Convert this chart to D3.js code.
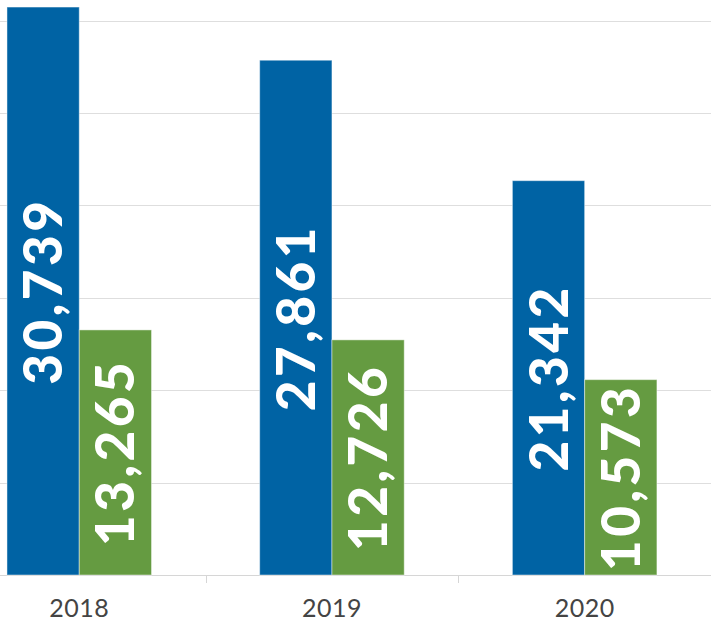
<!DOCTYPE html>
<html>
<head>
<meta charset="utf-8">
<script src="https://cdn.jsdelivr.net/npm/d3@7"></script>
<style>
  body { margin: 0; background: #fff; }
  svg { display: block; }
</style>
</head>
<body>
<div id="chart"></div>
<script>
// data
var years = ['2018', '2019', '2020'];
var blue_values = [30739, 27861, 21342];
var green_values = [13265, 12726, 10573];
var grid_values = [0, 5000, 10000, 15000, 20000, 25000, 30000];

var chart_width = 711;
var chart_height = 621;
var baseline = 575;

var svg = d3.select('#chart')
  .append('svg')
  .attr('width', chart_width)
  .attr('height', chart_height);

// scales
var x_scale = d3.scaleBand()
  .domain(years)
  .range([-47.1, chart_width]);

var y_scale = d3.scaleLinear()
  .domain([0, 30000])
  .range([baseline, 20.7]);

var bar_w = x_scale.bandwidth() * 0.286;

// grid lines
svg.append('g')
  .selectAll('line')
  .data(grid_values.slice(1))
  .enter()
  .append('line')
  .attr('x1', 0)
  .attr('x2', chart_width)
  .attr('y1', function(d) { return Math.round(y_scale(d)) + 0.5; })
  .attr('y2', function(d) { return Math.round(y_scale(d)) + 0.5; })
  .attr('stroke', '#dedede')
  .attr('stroke-width', 1);

// x axis (ticks between categories)
var x_axis = svg.append('g');
x_axis.append('line')
  .attr('x1', 0)
  .attr('x2', chart_width)
  .attr('y1', baseline + 0.5)
  .attr('y2', baseline + 0.5)
  .attr('stroke', '#d6d6d6');

x_axis.selectAll('.tick')
  .data(years.slice(1))
  .enter()
  .append('line')
  .attr('class', 'tick')
  .attr('x1', function(d) { return Math.round(x_scale(d)) + 0.5; })
  .attr('x2', function(d) { return Math.round(x_scale(d)) + 0.5; })
  .attr('y1', baseline)
  .attr('y2', baseline + 8)
  .attr('stroke', '#d6d6d6');

x_axis.selectAll('text')
  .data(years)
  .enter()
  .append('text')
  .text(function(d) { return d; })
  .attr('x', function(d) { return x_scale(d) + x_scale.bandwidth() / 2; })
  .attr('y', 617)
  .attr('text-anchor', 'middle')
  .attr('font-family', 'Lato, sans-serif')
  .attr('font-size', 25)
  .attr('letter-spacing', 0.5)
  .attr('fill', '#444');

// bars
var series = [
  { values: blue_values, color: '#0063a4', offset: -1 },
  { values: green_values, color: '#659b41', offset: 0 }
];

series.forEach(function(s) {
  var g = svg.append('g');
  g.selectAll('rect')
    .data(years)
    .enter()
    .append('rect')
    .attr('x', function(d) { return x_scale(d) + x_scale.bandwidth() / 2 + s.offset * bar_w; })
    .attr('y', function(d, i) { return y_scale(s.values[i]); })
    .attr('width', bar_w)
    .attr('height', function(d, i) { return baseline - y_scale(s.values[i]); })
    .attr('fill', s.color)
    .attr('stroke', 'rgba(255,255,255,0.45)')
    .attr('stroke-width', 1);

  // labels
  g.selectAll('text')
    .data(years)
    .enter()
    .append('text')
    .text(function(d, i) { return d3.format(',')(s.values[i]); })
    .attr('transform', function(d, i) {
      var cx = x_scale(d) + x_scale.bandwidth() / 2 + s.offset * bar_w + bar_w / 2;
      var cy = (y_scale(s.values[i]) + baseline) / 2;
      return 'translate(' + cx + ',' + cy + ') rotate(-90)';
    })
    .attr('text-anchor', 'middle')
    .attr('dy', '0.36em')
    .attr('font-family', 'Lato, sans-serif')
    .attr('font-weight', 900)
    .attr('font-size', 53)
    .attr('letter-spacing', 3.5)
    .attr('fill', '#fff');
});
</script>
</body>
</html>
